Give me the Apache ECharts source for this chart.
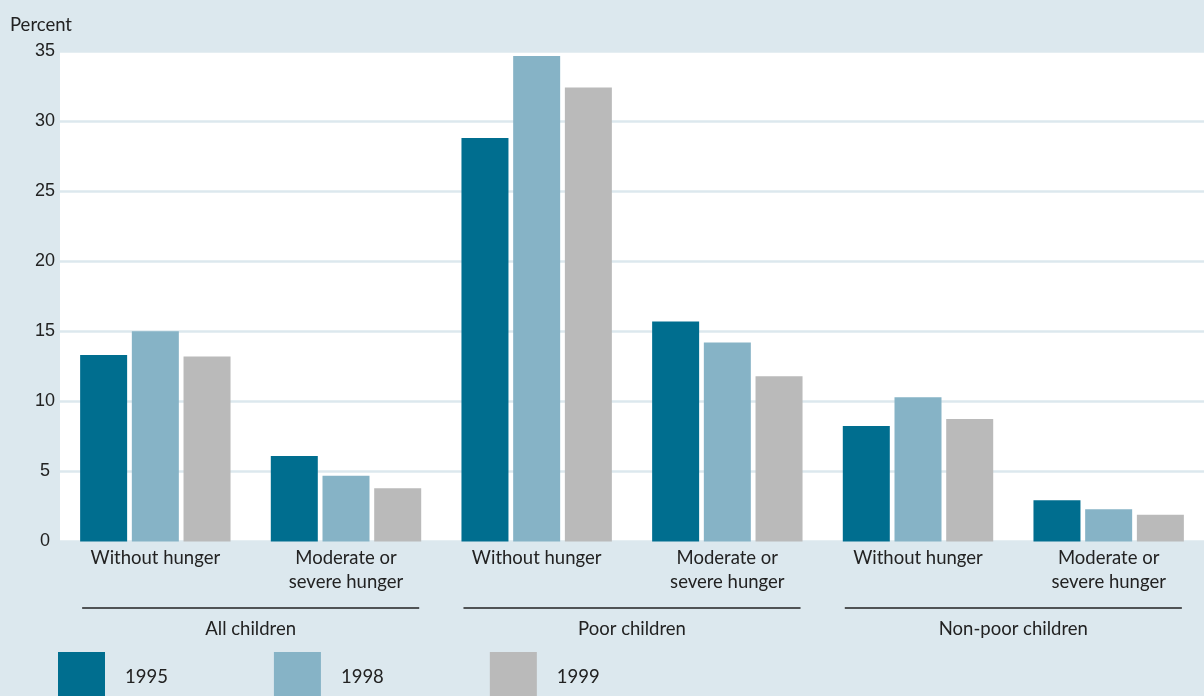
<!DOCTYPE html>
<html>
<head>
<meta charset="utf-8">
<script src="https://cdn.jsdelivr.net/npm/echarts@6/dist/echarts.min.js"></script>
<style>html,body{margin:0;padding:0;background:#dce8ee;}#c{width:1204px;height:696px;}</style>
</head>
<body>
<div id="c"></div>
<script>
const categories = ['Without hunger', 'Moderate or\nsevere hunger', 'Without hunger', 'Moderate or\nsevere hunger', 'Without hunger', 'Moderate or\nsevere hunger'];
const groups = ['All children', 'Poor children', 'Non-poor children'];
const years = ['1995', '1998', '1999'];
const v1995 = [13.3, 6.1, 28.8, 15.7, 8.25, 2.95];
const v1998 = [15.0, 4.7, 34.65, 14.2, 10.3, 2.3];
const v1999 = [13.2, 3.8, 32.4, 11.8, 8.75, 1.9];
const yTicks = [0, 5, 10, 15, 20, 25, 30, 35];

const colors = ['#006e8f', '#86b3c6', '#bababa'];
const FONT = 'Lato';
const FS = 18.5;
const chart = echarts.init(document.getElementById('c'));
const values = [v1995, v1998, v1999];

chart.setOption({
  backgroundColor: '#dce8ee',
  animation: false,
  title: { text: 'Percent', left: 5, top: 11, textStyle: { fontFamily: FONT, fontSize: FS, fontWeight: 'normal', color: '#222' } },
  legend: {
    data: years, left: 53, top: 647, itemWidth: 47, itemHeight: 50, itemGap: 106, icon: 'rect',
    textStyle: { fontFamily: FONT, fontSize: FS, color: '#222', padding: [0, 0, 0, 15] }
  },
  grid: { left: 60, right: 0, top: 51, bottom: 154.5, show: true, backgroundColor: '#ffffff', borderWidth: 0 },
  xAxis: [
    {
      type: 'category', data: categories,
      axisLine: { show: false }, axisTick: { show: false },
      axisLabel: { fontFamily: FONT, fontSize: FS, color: '#222', lineHeight: 24, margin: 5, interval: 0 }
    },
    {
      type: 'category', data: groups, position: 'bottom', offset: 72,
      axisLine: { show: false }, axisTick: { show: false },
      axisLabel: { fontFamily: FONT, fontSize: FS, color: '#222', margin: 6, interval: 0 }
    }
  ],
  yAxis: {
    type: 'value', min: yTicks[0], max: yTicks[yTicks.length - 1], interval: 5,
    axisLine: { show: false }, axisTick: { show: false },
    axisLabel: { fontFamily: 'Liberation Sans', fontSize: 18, color: '#222', align: 'center', margin: 15 },
    splitLine: { lineStyle: { color: '#dce8ee', width: 2.5 } }
  },
  series: years.map((y, i) => ({
    name: y, type: 'bar', data: values[i], xAxisIndex: 0,
    barWidth: 47, barGap: '10%',
    itemStyle: { color: colors[i] }
  }))
});

// group underlines
const half = (3 * 47 + 2 * 4.7) / 2;
const lines = groups.map((g, gi) => {
  const a = chart.convertToPixel({ xAxisIndex: 0 }, 2 * gi);
  const b = chart.convertToPixel({ xAxisIndex: 0 }, 2 * gi + 1);
  return {
    type: 'line', shape: { x1: a - half + 2, y1: 608, x2: b + half - 2, y2: 608 },
    style: { stroke: '#222', lineWidth: 1.5 }
  };
});
chart.setOption({ graphic: lines });
</script>
</body>
</html>
